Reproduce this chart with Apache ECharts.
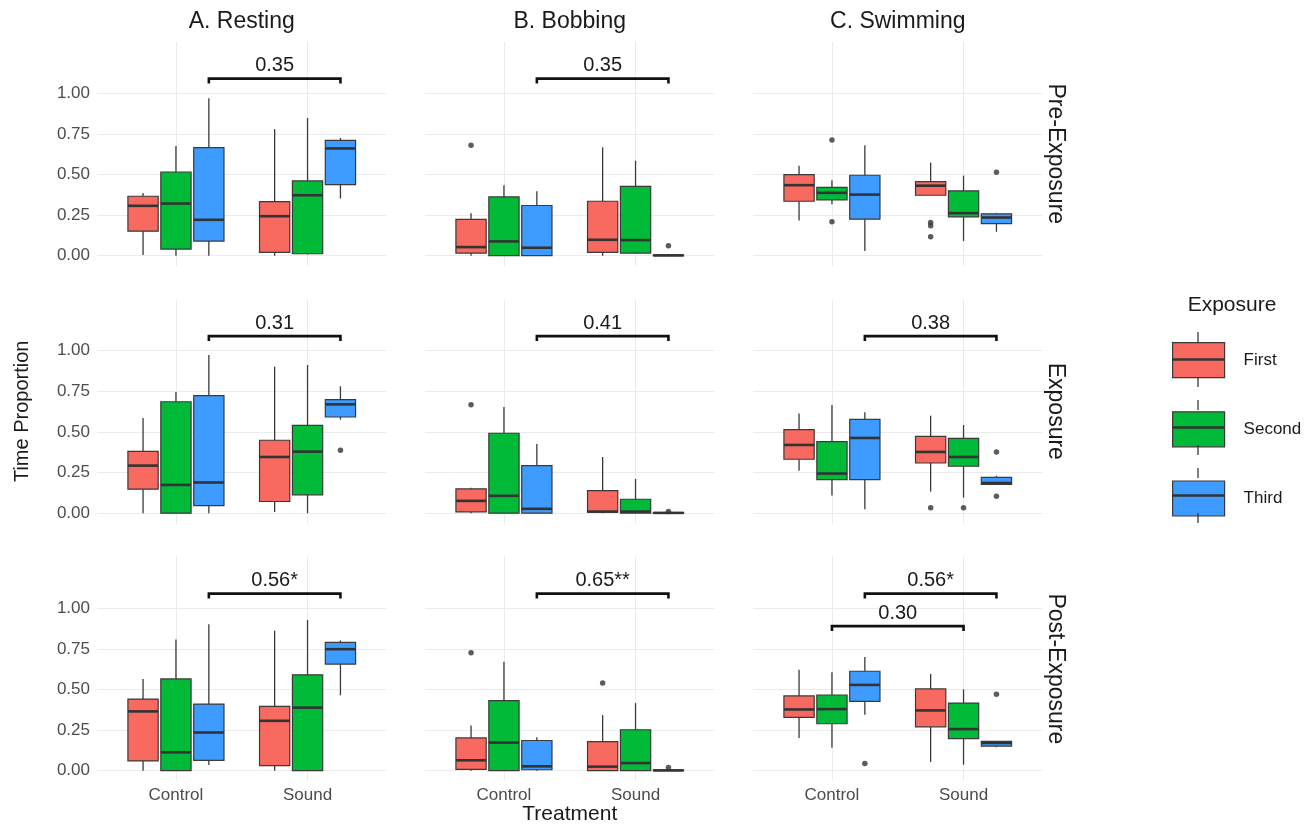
<!DOCTYPE html>
<html><head><meta charset="utf-8">
<script src="https://cdn.jsdelivr.net/npm/echarts@6/dist/echarts.min.js"></script>
<style>html,body{margin:0;padding:0;background:#fff}#c{width:1316px;height:825px}</style>
</head><body><div id="c"></div>
<script>
// ---------- data ----------
const behaviours = ['A. Resting', 'B. Bobbing', 'C. Swimming'];
const phases = ['Pre-Exposure', 'Exposure', 'Post-Exposure'];
const treatments = ['Control', 'Sound'];
const exposures = ['First', 'Second', 'Third'];
const yTicks = [0, 0.25, 0.5, 0.75, 1];

// box stats [min, Q1, median, Q3, max]
// order: Control First, Control Second, Control Third, Sound First, Sound Second, Sound Third
const restingPre = [
  [0.004, 0.151, 0.307, 0.366, 0.386], [0.0, 0.041, 0.321, 0.515, 0.675], [0.0, 0.09, 0.221, 0.665, 0.969],
  [0.0, 0.02, 0.243, 0.333, 0.779], [0.008, 0.012, 0.372, 0.46, 0.847], [0.352, 0.438, 0.66, 0.71, 0.724]
];
const bobbingPre = [
  [0.0, 0.016, 0.053, 0.223, 0.262], [0.0, 0.0, 0.088, 0.362, 0.434], [0.0, 0.0, 0.049, 0.309, 0.397],
  [0.0, 0.02, 0.098, 0.335, 0.667], [0.012, 0.016, 0.096, 0.427, 0.585], [0.0, 0.0, 0.002, 0.004, 0.006]
];
const swimmingPre = [
  [0.217, 0.335, 0.434, 0.499, 0.554], [0.317, 0.344, 0.387, 0.421, 0.464], [0.029, 0.225, 0.376, 0.495, 0.679],
  [0.372, 0.372, 0.431, 0.456, 0.573], [0.09, 0.239, 0.262, 0.399, 0.493], [0.147, 0.198, 0.235, 0.258, 0.264]
];
const restingExp = [
  [0.0, 0.148, 0.293, 0.381, 0.586], [0.0, 0.0, 0.174, 0.686, 0.746], [0.0, 0.047, 0.189, 0.723, 0.973],
  [0.008, 0.072, 0.346, 0.449, 0.902], [0.0, 0.113, 0.379, 0.541, 0.912], [0.576, 0.592, 0.67, 0.699, 0.781]
];
const bobbingExp = [
  [0.0, 0.008, 0.076, 0.15, 0.156], [0.0, 0.0, 0.107, 0.492, 0.654], [0.0, 0.0, 0.027, 0.293, 0.426],
  [0.0, 0.006, 0.01, 0.139, 0.346], [0.0, 0.0, 0.01, 0.086, 0.211], [0.0, 0.0, 0.002, 0.004, 0.004]
];
const swimmingExp = [
  [0.262, 0.332, 0.42, 0.514, 0.613], [0.109, 0.207, 0.244, 0.441, 0.666], [0.025, 0.207, 0.463, 0.578, 0.621],
  [0.133, 0.309, 0.377, 0.473, 0.6], [0.096, 0.289, 0.346, 0.461, 0.543], [0.178, 0.178, 0.186, 0.221, 0.23]
];
const restingPost = [
  [0.0, 0.06, 0.365, 0.441, 0.565], [0.0, 0.0, 0.113, 0.565, 0.808], [0.035, 0.064, 0.235, 0.41, 0.901],
  [0.0, 0.031, 0.307, 0.396, 0.862], [0.0, 0.0, 0.388, 0.59, 0.928], [0.464, 0.656, 0.748, 0.79, 0.802]
];
const bobbingPost = [
  [0.0, 0.008, 0.064, 0.202, 0.278], [0.0, 0.0, 0.173, 0.431, 0.67], [0.0, 0.006, 0.027, 0.186, 0.206],
  [0.0, 0.0, 0.025, 0.179, 0.342], [0.0, 0.0, 0.047, 0.252, 0.416], [0.0, 0.0, 0.002, 0.004, 0.004]
];
const swimmingPost = [
  [0.202, 0.328, 0.377, 0.46, 0.621], [0.142, 0.289, 0.379, 0.466, 0.606], [0.344, 0.427, 0.528, 0.612, 0.699],
  [0.054, 0.27, 0.371, 0.503, 0.596], [0.037, 0.198, 0.256, 0.416, 0.501], [0.144, 0.151, 0.171, 0.181, 0.181]
];

// outliers [treatment index, exposure index, value]
const restingPreOut = [];
const bobbingPreOut = [[0, 0, 0.679], [1, 2, 0.061]];
const swimmingPreOut = [[0, 1, 0.712], [0, 1, 0.209], [1, 0, 0.204], [1, 0, 0.184], [1, 0, 0.117], [1, 2, 0.513]];
const restingExpOut = [[1, 2, 0.387]];
const bobbingExpOut = [[0, 0, 0.668], [1, 2, 0.01]];
const swimmingExpOut = [[1, 0, 0.033], [1, 1, 0.033], [1, 2, 0.377], [1, 2, 0.105]];
const restingPostOut = [];
const bobbingPostOut = [[0, 0, 0.726], [1, 0, 0.54], [1, 2, 0.019]];
const swimmingPostOut = [[0, 2, 0.045], [1, 2, 0.47]];

// significance brackets [treatment A, exposure A, treatment B, exposure B, level, label]
const restingPreSig = [[0, 2, 1, 2, 1.09, '0.35']];
const bobbingPreSig = [[0, 2, 1, 2, 1.09, '0.35']];
const swimmingPreSig = [];
const restingExpSig = [[0, 2, 1, 2, 1.09, '0.31']];
const bobbingExpSig = [[0, 2, 1, 2, 1.09, '0.41']];
const swimmingExpSig = [[0, 2, 1, 2, 1.09, '0.38']];
const restingPostSig = [[0, 2, 1, 2, 1.09, '0.56*']];
const bobbingPostSig = [[0, 2, 1, 2, 1.09, '0.65**']];
const swimmingPostSig = [[0, 2, 1, 2, 1.09, '0.56*'], [0, 1, 1, 1, 0.89, '0.30']];

// ---------- layout / style ----------
const FONT = '"Liberation Sans", Arial, Helvetica, sans-serif';
const colors = ['#F8695F', '#00BA38', '#3E9BFF'];
const dodge = [-0.25, 0, 0.25];
const BOXW = 0.23;
const lefts = [97, 425, 753];
const tops = [41.7, 299.2, 556.7];
const W = 289.5, H = 224.2;
const GRID = '#EBEBEB', EDGE = '#3a3a3a';

const panels = [
  [restingPre, restingPreOut, restingPreSig], [bobbingPre, bobbingPreOut, bobbingPreSig], [swimmingPre, swimmingPreOut, swimmingPreSig],
  [restingExp, restingExpOut, restingExpSig], [bobbingExp, bobbingExpOut, bobbingExpSig], [swimmingExp, swimmingExpOut, swimmingExpSig],
  [restingPost, restingPostOut, restingPostSig], [bobbingPost, bobbingPostOut, bobbingPostSig], [swimmingPost, swimmingPostOut, swimmingPostSig]
];

function makeBox(e) {
  return function (params, api) {
    const xv = api.value(0) + dodge[e];
    const w = api.size([BOXW, 0])[0];
    const pMin = api.coord([xv, api.value(1)]);
    const pQ1 = api.coord([xv, api.value(2)]);
    const pMed = api.coord([xv, api.value(3)]);
    const pQ3 = api.coord([xv, api.value(4)]);
    const pMax = api.coord([xv, api.value(5)]);
    const x = pMed[0];
    return {
      type: 'group',
      children: [
        { type: 'line', shape: { x1: x, y1: pMax[1], x2: x, y2: pQ3[1] }, style: { stroke: EDGE, lineWidth: 1.3 } },
        { type: 'line', shape: { x1: x, y1: pQ1[1], x2: x, y2: pMin[1] }, style: { stroke: EDGE, lineWidth: 1.3 } },
        { type: 'rect', shape: { x: x - w / 2, y: pQ3[1], width: w, height: Math.max(pQ1[1] - pQ3[1], 0.5) },
          style: { fill: colors[e], stroke: EDGE, lineWidth: 1.2 } },
        { type: 'line', shape: { x1: x - w / 2, y1: pMed[1], x2: x + w / 2, y2: pMed[1] }, style: { stroke: '#333', lineWidth: 2.6 } }
      ]
    };
  };
}

function makeBracket(sig) {
  return function (params, api) {
    const p1 = api.coord([api.value(0), api.value(2)]);
    const p2 = api.coord([api.value(1), api.value(2)]);
    const tip = 5;
    return {
      type: 'group',
      children: [
        { type: 'polyline', shape: { points: [[p1[0], p1[1] + tip], [p1[0], p1[1]], [p2[0], p2[1]], [p2[0], p2[1] + tip]] },
          style: { stroke: '#111', lineWidth: 2.6, fill: null } },
        { type: 'text', x: (p1[0] + p2[0]) / 2, y: p1[1] - 3,
          style: { text: sig[params.dataIndex][5], fontSize: 20, fontFamily: FONT, fill: '#1a1a1a', align: 'center', verticalAlign: 'bottom' } }
      ]
    };
  };
}

const grids = [], xAxes = [], yAxes = [], series = [];
for (let r = 0; r < 3; r++) {
  for (let c = 0; c < 3; c++) {
    const g = r * 3 + c;
    const [boxes, outs, sigs] = panels[g];
    grids.push({ left: lefts[c], top: tops[r], width: W, height: H });
    xAxes.push({
      type: 'value', gridIndex: g, min: 0.4, max: 2.6,
      axisLine: { show: false }, axisTick: { show: false, customValues: [1, 2] },
      splitLine: { show: true, lineStyle: { color: GRID, width: 1 } },
      axisLabel: { show: r === 2, customValues: [1, 2], formatter: v => treatments[Math.round(v) - 1],
        fontSize: 17, color: '#4D4D4D', margin: 6, fontFamily: FONT }
    });
    yAxes.push({
      type: 'value', gridIndex: g, min: -0.0627, max: 1.317,
      axisLine: { show: false }, axisTick: { show: false, customValues: yTicks },
      splitLine: { show: true, lineStyle: { color: GRID, width: 1 } },
      axisLabel: { show: c === 0, customValues: yTicks, formatter: v => v.toFixed(2),
        fontSize: 17, color: '#4D4D4D', margin: 7, fontFamily: FONT }
    });
    for (let e = 0; e < 3; e++) {
      series.push({
        type: 'custom', name: exposures[e], xAxisIndex: g, yAxisIndex: g,
        itemStyle: { color: colors[e] },
        data: treatments.map((t, ti) => [ti + 1].concat(boxes[ti * 3 + e])),
        encode: { x: 0, y: [1, 2, 3, 4, 5] },
        renderItem: makeBox(e), z: 2, silent: true
      });
    }
    if (outs.length) {
      series.push({
        type: 'scatter', name: 'outliers', xAxisIndex: g, yAxisIndex: g, silent: true,
        symbolSize: 5.5, itemStyle: { color: '#333' }, z: 3,
        data: outs.map(o => [o[0] + 1 + dodge[o[1]], o[2]])
      });
    }
    if (sigs.length) {
      series.push({
        type: 'custom', name: 'signif', xAxisIndex: g, yAxisIndex: g, silent: true, clip: false, z: 4,
        data: sigs.map(s => [s[0] + 1 + dodge[s[1]], s[2] + 1 + dodge[s[3]], s[4]]),
        encode: { x: [0, 1], y: 2 },
        renderItem: makeBracket(sigs)
      });
    }
  }
}

const graphic = [];
behaviours.forEach((b, c) => graphic.push({
  type: 'text', x: lefts[c] + W / 2, y: 22,
  style: { text: b, fontSize: 23, fontFamily: FONT, fill: '#1a1a1a', align: 'center', verticalAlign: 'middle' }
}));
phases.forEach((p, r) => graphic.push({
  type: 'text', x: 1055, y: tops[r] + H / 2, rotation: -Math.PI / 2,
  style: { text: p, fontSize: 23, fontFamily: FONT, fill: '#1a1a1a', align: 'center', verticalAlign: 'middle' }
}));
graphic.push({
  type: 'text', x: 22, y: (tops[0] + tops[2] + H) / 2, rotation: Math.PI / 2,
  style: { text: 'Time Proportion', fontSize: 20, fontFamily: FONT, fill: '#1a1a1a', align: 'center', verticalAlign: 'middle' }
});
graphic.push({
  type: 'text', x: (lefts[0] + lefts[2] + W) / 2, y: 814,
  style: { text: 'Treatment', fontSize: 21, fontFamily: FONT, fill: '#1a1a1a', align: 'center', verticalAlign: 'middle' }
});
graphic.push({
  type: 'text', x: 1232, y: 305,
  style: { text: 'Exposure', fontSize: 21, fontFamily: FONT, fill: '#1a1a1a', align: 'center', verticalAlign: 'middle' }
});
// legend key whiskers & medians
const LG_LEFT = 1172, LG_TOP = 342, LG_W = 52, LG_H = 35, LG_GAP = 33;
exposures.forEach((e, i) => {
  const y0 = LG_TOP + i * (LG_H + LG_GAP);
  const cx = LG_LEFT + LG_W / 2;
  graphic.push({ type: 'line', shape: { x1: cx, y1: y0 - 10, x2: cx, y2: y0 }, style: { stroke: EDGE, lineWidth: 1.3 }, z: 100 });
  graphic.push({ type: 'line', shape: { x1: cx, y1: y0 + LG_H, x2: cx, y2: y0 + LG_H + 10 }, style: { stroke: EDGE, lineWidth: 1.3 }, z: 100 });
  graphic.push({ type: 'line', shape: { x1: LG_LEFT, y1: y0 + LG_H / 2, x2: LG_LEFT + LG_W, y2: y0 + LG_H / 2 }, style: { stroke: '#333', lineWidth: 2.4 }, z: 100 });
});

const chart = echarts.init(document.getElementById('c'), null, { renderer: 'canvas' });
chart.setOption({
  animation: false,
  backgroundColor: '#ffffff',
  grid: grids, xAxis: xAxes, yAxis: yAxes, series: series,
  legend: {
    data: exposures, orient: 'vertical', left: LG_LEFT, top: LG_TOP, padding: 0,
    itemWidth: LG_W, itemHeight: LG_H, itemGap: LG_GAP, icon: 'rect', selectedMode: false,
    itemStyle: { borderColor: EDGE, borderWidth: 1.2 },
    textStyle: { fontSize: 17, color: '#1a1a1a', fontFamily: FONT, padding: [0, 0, 0, 14] }
  },
  graphic: graphic
});
</script></body></html>
